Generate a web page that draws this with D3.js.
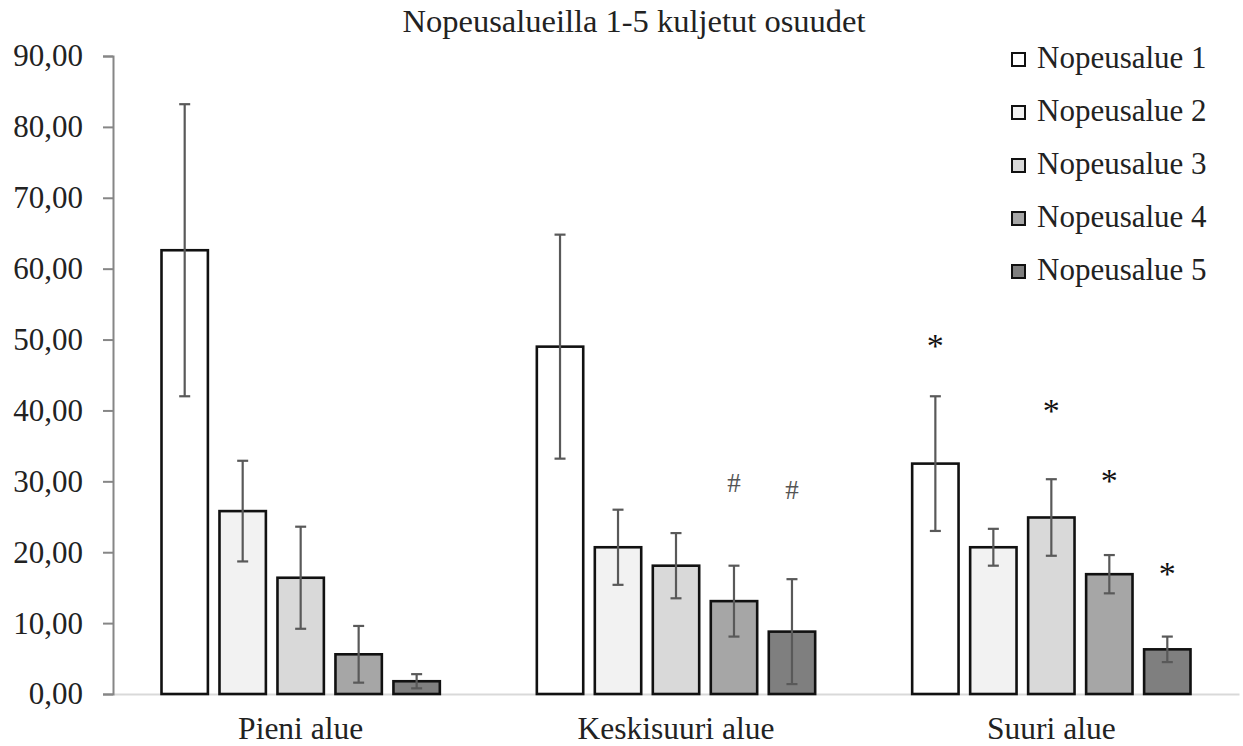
<!DOCTYPE html>
<html>
<head>
<meta charset="utf-8">
<script src="https://cdn.jsdelivr.net/npm/d3@7"></script>
<style>
  body { margin: 0; background: #fff; }
  svg { display: block; }
  svg text { font-family: "Liberation Serif", "Times New Roman", Times, "DejaVu Serif", serif; }
</style>
</head>
<body>
<div id="chart"></div>
<script>
// chart data
const categories = ["Pieni alue", "Keskisuuri alue", "Suuri alue"];
const seriesNames = ["Nopeusalue 1", "Nopeusalue 2", "Nopeusalue 3", "Nopeusalue 4", "Nopeusalue 5"];
const seriesColors = ["#ffffff", "#f2f2f2", "#d9d9d9", "#a6a6a6", "#7f7f7f"];
// means per category, one value per series
const meanPieni = [62.6, 25.8, 16.4, 5.6, 1.8];
const meanKeski = [49.0, 20.7, 18.1, 13.1, 8.8];
const meanSuuri = [32.5, 20.7, 24.9, 16.9, 6.3];
// +/- error per category
const errPieni = [20.6, 7.1, 7.2, 4.0, 1.0];
const errKeski = [15.8, 5.3, 4.6, 5.0, 7.4];
const errSuuri = [9.5, 2.6, 5.4, 2.7, 1.8];
const yTicks = [0, 10, 20, 30, 40, 50, 60, 70, 80, 90];
// significance markers (symbol drawn at a value height above a bar)
const markCategory = ["Keskisuuri alue", "Keskisuuri alue", "Suuri alue", "Suuri alue", "Suuri alue", "Suuri alue"];
const markSeries = ["Nopeusalue 4", "Nopeusalue 5", "Nopeusalue 1", "Nopeusalue 3", "Nopeusalue 4", "Nopeusalue 5"];
const markSymbol = ["#", "#", "*", "*", "*", "*"];
const markValue = [29.8, 28.8, 49.9, 40.8, 30.9, 17.8];

const width = 1243, height = 746;
const marginTop = 56, marginBottom = 52, marginLeft = 113, marginRight = 4;
const fontSize = 31;

const means = [meanPieni, meanKeski, meanSuuri];
const errs = [errPieni, errKeski, errSuuri];
const data = [];
categories.forEach((c, ci) => {
  seriesNames.forEach((s, si) => {
    data.push({category: c, series: s, value: means[ci][si], err: errs[ci][si]});
  });
});

const svg = d3.select("#chart").append("svg")
    .attr("width", width)
    .attr("height", height)
    .attr("viewBox", [0, 0, width, height]);

const x0 = d3.scaleBand()
    .domain(categories)
    .range([marginLeft, width - marginRight]);

const groupPad = 48.5;
const x1 = d3.scaleBand()
    .domain(seriesNames)
    .range([groupPad, x0.bandwidth() - groupPad])
    .paddingInner(0.2)
    .paddingOuter(0);

const y = d3.scaleLinear()
    .domain([0, 90])
    .range([height - marginBottom, marginTop]);

const color = d3.scaleOrdinal(seriesNames, seriesColors);
const fiLocale = d3.formatLocale({decimal: ",", thousands: " ", grouping: [3], currency: ["", " €"]});
const fmt = fiLocale.format(".2f");

// title
svg.append("text")
    .attr("x", 634)
    .attr("y", 32)
    .attr("text-anchor", "middle")
    .attr("font-size", 32.5)
    .attr("fill", "#222")
    .text("Nopeusalueilla 1-5 kuljetut osuudet");

// x axis
svg.append("g")
    .attr("transform", `translate(0,${y(0)})`)
    .call(d3.axisBottom(x0).tickSize(0))
    .call(g => g.attr("font-family", null))
    .call(g => g.select(".domain").attr("stroke", "#d9d9d9").attr("stroke-width", 2))
    .call(g => g.selectAll(".tick text")
        .attr("font-size", 31.5)
        .attr("fill", "#222")
        .attr("y", 45)
        .attr("dy", null));

// y axis
svg.append("g")
    .attr("transform", `translate(${marginLeft},0)`)
    .call(d3.axisLeft(y).tickValues(yTicks).tickFormat(fmt).tickSizeInner(10).tickSizeOuter(10).tickPadding(20))
    .call(g => g.attr("font-family", null))
    .call(g => g.select(".domain").attr("stroke", "#868686").attr("stroke-width", 2))
    .call(g => g.selectAll(".tick line").attr("stroke", "#868686").attr("stroke-width", 2))
    .call(g => g.selectAll(".tick text")
        .attr("font-size", fontSize)
        .attr("fill", "#222"));

// bars
const groups = svg.append("g")
  .selectAll("g")
  .data(categories)
  .join("g")
    .attr("transform", d => `translate(${x0(d)},0)`);

groups.selectAll("rect")
  .data(c => data.filter(d => d.category === c))
  .join("rect")
    .attr("x", d => x1(d.series))
    .attr("y", d => y(d.value))
    .attr("width", x1.bandwidth())
    .attr("height", d => y(0) - y(d.value))
    .attr("fill", d => color(d.series))
    .attr("stroke", "#111")
    .attr("stroke-width", 2.6);

// error bars
const capW = 11;
const eb = groups.selectAll("g.err")
  .data(c => data.filter(d => d.category === c))
  .join("g")
    .attr("class", "err")
    .attr("stroke", "#595959")
    .attr("stroke-width", 2.2);

eb.append("line")
    .attr("x1", d => x1(d.series) + x1.bandwidth() / 2)
    .attr("x2", d => x1(d.series) + x1.bandwidth() / 2)
    .attr("y1", d => y(d.value + d.err))
    .attr("y2", d => y(d.value - d.err));
eb.append("line")
    .attr("x1", d => x1(d.series) + x1.bandwidth() / 2 - capW / 2)
    .attr("x2", d => x1(d.series) + x1.bandwidth() / 2 + capW / 2)
    .attr("y1", d => y(d.value + d.err))
    .attr("y2", d => y(d.value + d.err));
eb.append("line")
    .attr("x1", d => x1(d.series) + x1.bandwidth() / 2 - capW / 2)
    .attr("x2", d => x1(d.series) + x1.bandwidth() / 2 + capW / 2)
    .attr("y1", d => y(d.value - d.err))
    .attr("y2", d => y(d.value - d.err));

// significance markers
svg.append("g")
  .selectAll("text")
  .data(d3.range(markSymbol.length))
  .join("text")
    .attr("x", i => x0(markCategory[i]) + x1(markSeries[i]) + x1.bandwidth() / 2)
    .attr("y", i => y(markValue[i]) + (markSymbol[i] === "*" ? 17 : 9))
    .attr("text-anchor", "middle")
    .attr("font-size", i => markSymbol[i] === "*" ? 34 : 27)
    .attr("fill", i => markSymbol[i] === "*" ? "#111" : "#555")
    .text(i => markSymbol[i]);

// legend
const legend = svg.append("g")
    .attr("transform", "translate(1012,53)");

const li = legend.selectAll("g")
  .data(seriesNames)
  .join("g")
    .attr("transform", (d, i) => `translate(0,${i * 53})`);

li.append("rect")
    .attr("width", 13)
    .attr("height", 13)
    .attr("fill", d => color(d))
    .attr("stroke", "#111")
    .attr("stroke-width", 2);

li.append("text")
    .attr("x", 25)
    .attr("y", 15)
    .attr("font-size", fontSize)
    .attr("fill", "#222")
    .text(d => d);
</script>
</body>
</html>
